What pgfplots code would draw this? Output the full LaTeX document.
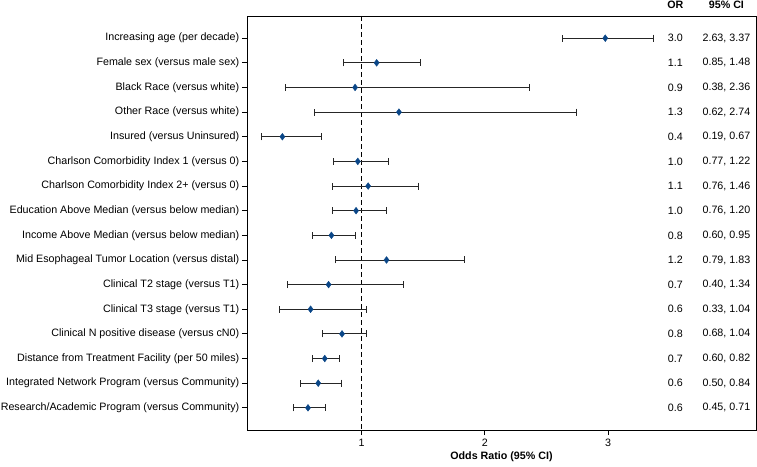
\documentclass[border=0pt]{standalone}
\usepackage{fontspec}
\setmainfont{Liberation Sans}
\usepackage{pgfplots}
\pgfplotsset{compat=1.18}
\usepackage{pgfplotstable}
\definecolor{markblue}{RGB}{10,70,135}

\pgfplotstableread{
y or lo hi
1 2.977 2.63 3.37
2 1.122 0.85 1.48
3 0.947 0.38 2.36
4 1.303 0.62 2.74
5 0.357 0.19 0.67
6 0.969 0.77 1.22
7 1.053 0.76 1.46
8 0.955 0.76 1.20
9 0.755 0.60 0.95
10 1.202 0.79 1.83
11 0.732 0.40 1.34
12 0.586 0.33 1.04
13 0.841 0.68 1.04
14 0.701 0.60 0.82
15 0.648 0.50 0.84
16 0.565 0.45 0.71
}\data

\begin{document}
\fontsize{10.7bp}{12.8bp}\selectfont
\begin{tikzpicture}
\useasboundingbox (-247bp,-37bp) rectangle (510bp,430bp);
\begin{axis}[
  at={(0,0)}, anchor=south west,
  scale only axis, width=509bp, height=414bp,
  xmin=0.07, xmax=4.2,
  ymin=0.1, ymax=16.9, y dir=reverse,
  clip=false,
  axis line style={line width=0.9pt},
  tick style={black, line width=0.8pt},
  tick align=outside,
  xtick pos=bottom, ytick pos=left,
  major tick length=5bp,
  xtick={1,2,3},
  ytick={1,...,16},
  yticklabels={
    {Increasing age (per decade)},
    {Female sex (versus male sex)},
    {Black Race (versus white)},
    {Other Race (versus white)},
    {Insured (versus Uninsured)},
    {Charlson Comorbidity Index 1 (versus 0)},
    {Charlson Comorbidity Index 2+ (versus 0)},
    {Education Above Median (versus below median)},
    {Income Above Median (versus below median)},
    {Mid Esophageal Tumor Location (versus distal)},
    {Clinical T2 stage (versus T1)},
    {Clinical T3 stage (versus T1)},
    {Clinical N positive disease (versus cN0)},
    {Distance from Treatment Facility (per 50 miles)},
    {Integrated Network Program (versus Community)},
    {Research/Academic Program (versus Community)}},
  yticklabel style={font=\fontsize{10.7bp}{12.8bp}\selectfont, xshift=1bp},
  xticklabel style={font=\fontsize{10.7bp}{12.8bp}\selectfont},
  /pgf/number format/assume math mode=true,
  xlabel={\bfseries Odds Ratio (95\% CI)},
  xlabel style={font=\fontsize{10.7bp}{12.8bp}\selectfont, yshift=2bp},
]
\draw[black, line width=1.1pt, dash pattern=on 5bp off 3bp] (axis cs:1,0.1) -- (axis cs:1,16.9);
\addplot[only marks, mark=diamond*, mark size=3.4pt, color=markblue,
  error bars/.cd, x dir=both, x explicit,
  error mark=|,
  error bar style={black!85, line width=0.8pt},
  error mark options={black!85, mark size=3.5bp, line width=0.8pt}]
  table[x=or, y=y,
    x error plus expr=\thisrow{hi}-\thisrow{or},
    x error minus expr=\thisrow{or}-\thisrow{lo}] {\data};
\node[font=\bfseries] at (axis cs:3.545,-0.35) {OR};
\node[font=\bfseries] at (axis cs:3.96,-0.35) {95\% CI};
\node at (axis cs:3.545,1) {3.0};  \node at (axis cs:3.96,1) {2.63, 3.37};
\node at (axis cs:3.545,2) {1.1};  \node at (axis cs:3.96,2) {0.85, 1.48};
\node at (axis cs:3.545,3) {0.9};  \node at (axis cs:3.96,3) {0.38, 2.36};
\node at (axis cs:3.545,4) {1.3};  \node at (axis cs:3.96,4) {0.62, 2.74};
\node at (axis cs:3.545,5) {0.4};  \node at (axis cs:3.96,5) {0.19, 0.67};
\node at (axis cs:3.545,6) {1.0};  \node at (axis cs:3.96,6) {0.77, 1.22};
\node at (axis cs:3.545,7) {1.1};  \node at (axis cs:3.96,7) {0.76, 1.46};
\node at (axis cs:3.545,8) {1.0};  \node at (axis cs:3.96,8) {0.76, 1.20};
\node at (axis cs:3.545,9) {0.8};  \node at (axis cs:3.96,9) {0.60, 0.95};
\node at (axis cs:3.545,10) {1.2}; \node at (axis cs:3.96,10) {0.79, 1.83};
\node at (axis cs:3.545,11) {0.7}; \node at (axis cs:3.96,11) {0.40, 1.34};
\node at (axis cs:3.545,12) {0.6}; \node at (axis cs:3.96,12) {0.33, 1.04};
\node at (axis cs:3.545,13) {0.8}; \node at (axis cs:3.96,13) {0.68, 1.04};
\node at (axis cs:3.545,14) {0.7}; \node at (axis cs:3.96,14) {0.60, 0.82};
\node at (axis cs:3.545,15) {0.6}; \node at (axis cs:3.96,15) {0.50, 0.84};
\node at (axis cs:3.545,16) {0.6}; \node at (axis cs:3.96,16) {0.45, 0.71};
\end{axis}
\end{tikzpicture}
\end{document}
